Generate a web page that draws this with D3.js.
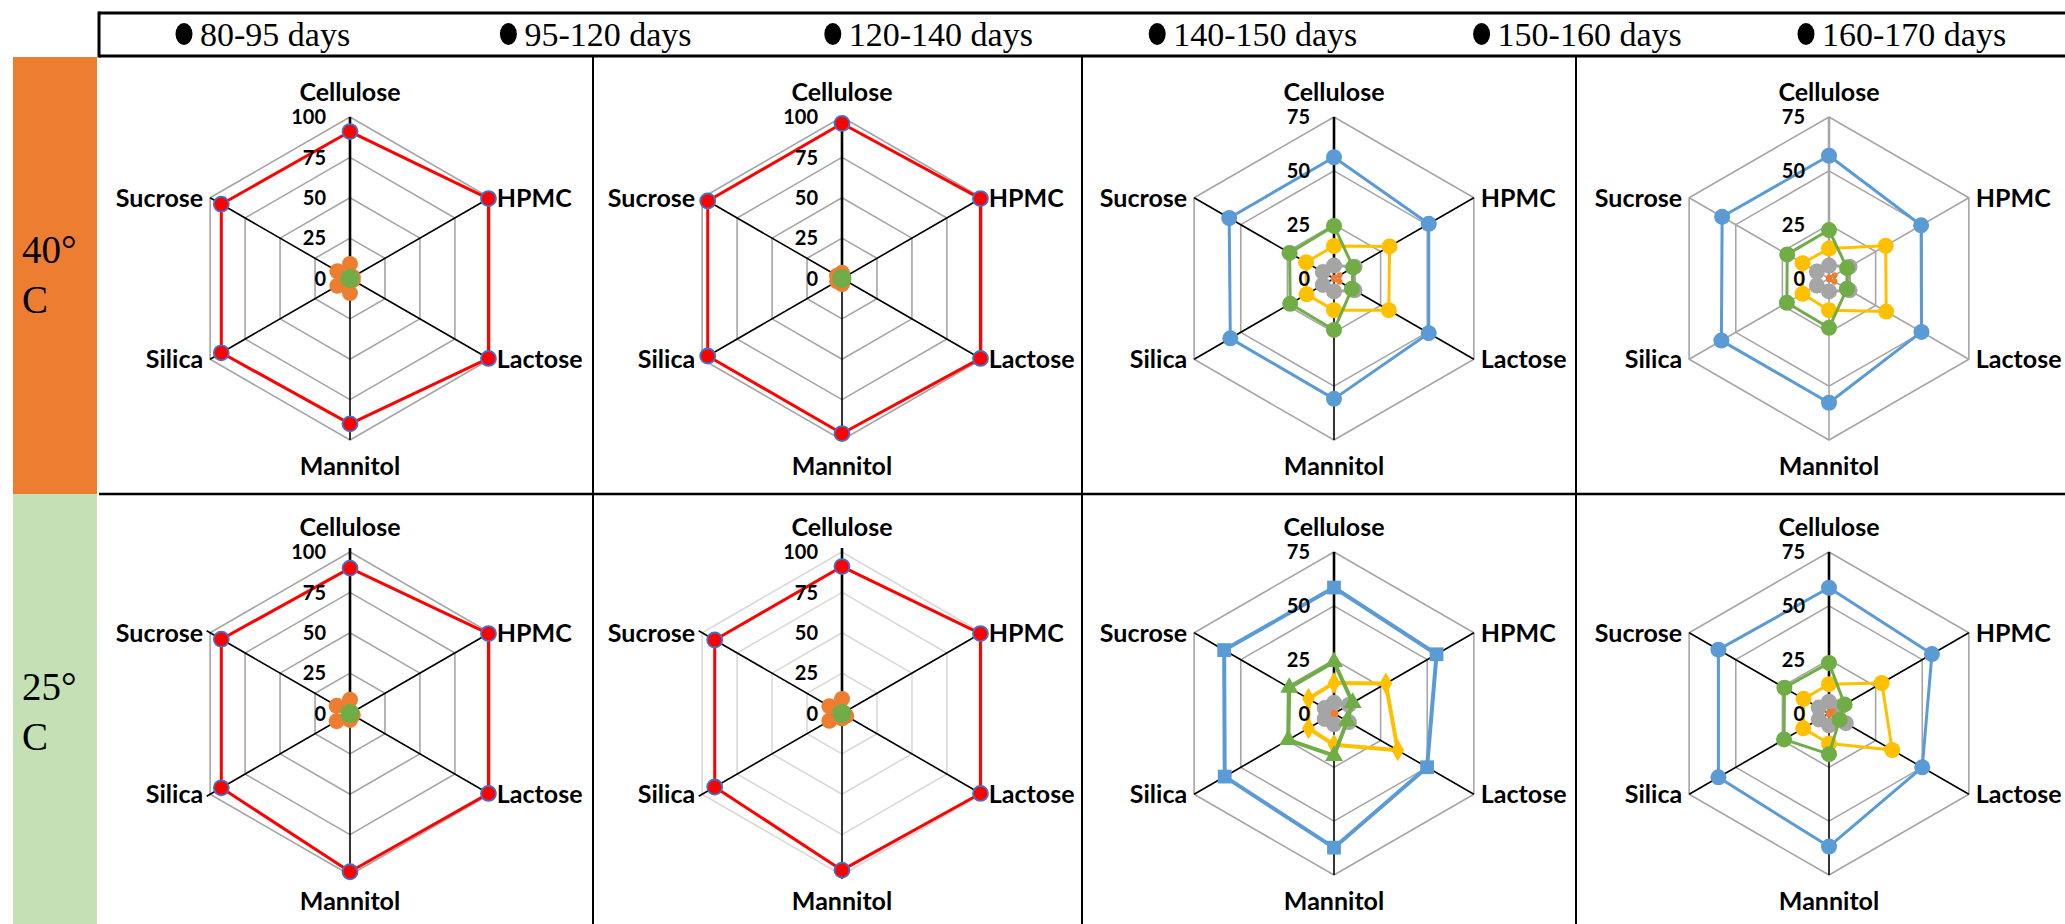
<!DOCTYPE html>
<html>
<head>
<meta charset="utf-8">
<script src="https://cdn.jsdelivr.net/npm/d3@7"></script>
<style>
  html, body { margin: 0; padding: 0; background: #fff; overflow: hidden; }
  .cat { font-family: Lato, "Open Sans", sans-serif; font-weight: 700; font-size: 25px; fill: #000; }
  .tick { font-family: Lato, "Open Sans", sans-serif; font-weight: 700; font-size: 20px; fill: #000; }
  .serif { font-family: "Liberation Serif", "Times New Roman", serif; fill: #000; }
  .legend-text { font-size: 34px; }
  .row-text { font-size: 39px; }
</style>
</head>
<body>
<svg id="fig" width="2065" height="924"></svg>
<script>
// ---- categories, tick labels, series ----
const periods = ["80-95 days", "95-120 days", "120-140 days", "140-150 days", "150-160 days", "160-170 days"];
const excipients = ["Cellulose", "HPMC", "Lactose", "Mannitol", "Silica", "Sucrose"];
const temperatures = ["40°", "25°"];
const ticksTo100 = [0, 25, 50, 75, 100];
const ticksTo75 = [0, 25, 50, 75];

// 40 °C, panel 1
const t40a_80_95   = [91, 99, 99, 90, 92, 92];
const t40a_95_120  = [9, 2, 2, 9, 9, 9];
const t40a_160_170 = [1, 1, 1, 1, 1, 1];
// 40 °C, panel 2
const t40b_80_95   = [96, 99, 99, 96, 96, 96];
const t40b_95_120  = [3.5, 0.5, 0.5, 3.5, 3.5, 3.5];
const t40b_160_170 = [1, 1, 1, 1, 1, 1];
// 40 °C, panel 3
const t40c_80_95   = [56.3, 50.8, 50.8, 55.9, 55.6, 56.2];
const t40c_120_140 = [6, 11, 11, 6, 6, 6];
const t40c_140_150 = [15.1, 29.8, 29.4, 14.7, 14.7, 15];
const t40c_95_120  = [0.5, 3, 3, 0.5, 0, 0];
const t40c_160_170 = [24.4, 10.3, 9.6, 23.9, 23.5, 23.8];
// 40 °C, panel 4
const t40d_80_95   = [57, 49.4, 49.6, 57.7, 57.7, 57.3];
const t40d_120_140 = [6, 11, 11, 6, 6.5, 6.5];
const t40d_140_150 = [13.9, 30.4, 30.7, 14.7, 14.2, 14.2];
const t40d_95_120  = [0.5, 3, 3, 0.5, 0, 0];
const t40d_160_170 = [22.5, 9.7, 9.6, 22.9, 22.6, 22.4];

// 25 °C, panel 1
const t25a_80_95   = [90, 99, 99, 98, 92, 92];
const t25a_95_120  = [8.5, 1, 2, 4, 9.5, 9.5];
const t25a_160_170 = [1, 1, 1, 1, 1, 1];
// 25 °C, panel 2
const t25b_80_95   = [91, 99, 99, 97, 91, 91];
const t25b_95_120  = [9, 1, 3, 3, 9, 9];
const t25b_160_170 = [1, 1, 1, 1, 1, 1];
// 25 °C, panel 3
const t25c_80_95   = [58.5, 55, 49.9, 62.3, 58.6, 58.9];
const t25c_120_140 = [5, 8, 8, 5, 5, 5];
const t25c_140_150 = [14.2, 27.8, 34.2, 14.5, 13.7, 13.7];
const t25c_95_120  = [0.5, 1, 1, 0.5, 0.5, 0.5];
const t25c_160_170 = [24, 10, 7, 19.6, 24.5, 24];
// 25 °C, panel 4
const t25d_80_95   = [58.4, 55.2, 50, 61.8, 59.3, 59.3];
const t25d_120_140 = [5.5, 6, 9, 5.5, 5.5, 5.5];
const t25d_140_150 = [13.6, 28.3, 33.9, 13.9, 13.8, 13.6];
const t25d_95_120  = [0.5, 2, 1, 0.5, 0, 0];
const t25d_160_170 = [23.5, 8.4, 5.7, 18.9, 24.1, 23.9];

// ---- styling ----
const periodColor = {
  "80-95 days": "#5B9BD5", "95-120 days": "#ED7D31", "120-140 days": "#A5A5A5",
  "140-150 days": "#FFC000", "150-160 days": "#4472C4", "160-170 days": "#70AD47"
};
const redStyle = { line: "#FF0000", fill: "#FF0000", stroke: "#4472C4", r: 7.5 };

const panels = [
  { row: 0, col: 0, ticks: ticksTo100, series: [
      ["80-95 days", t40a_80_95, redStyle], ["95-120 days", t40a_95_120], ["160-170 days", t40a_160_170]] },
  { row: 0, col: 1, ticks: ticksTo100, series: [
      ["80-95 days", t40b_80_95, redStyle], ["95-120 days", t40b_95_120], ["160-170 days", t40b_160_170]] },
  { row: 0, col: 2, ticks: ticksTo75, series: [
      ["80-95 days", t40c_80_95], ["120-140 days", t40c_120_140], ["140-150 days", t40c_140_150],
      ["95-120 days", t40c_95_120, { r: 3 }], ["160-170 days", t40c_160_170]] },
  { row: 0, col: 3, ticks: ticksTo75, spoke: "#A6A6A6", series: [
      ["80-95 days", t40d_80_95], ["120-140 days", t40d_120_140], ["140-150 days", t40d_140_150],
      ["95-120 days", t40d_95_120, { r: 3 }], ["160-170 days", t40d_160_170]] },
  { row: 1, col: 0, ticks: ticksTo100, ext: 4, series: [
      ["80-95 days", t25a_80_95, redStyle], ["95-120 days", t25a_95_120], ["160-170 days", t25a_160_170]] },
  { row: 1, col: 1, ticks: ticksTo100, ext: 4, grid: "#D9D9D9", series: [
      ["80-95 days", t25b_80_95, redStyle], ["95-120 days", t25b_95_120], ["160-170 days", t25b_160_170]] },
  { row: 1, col: 2, ticks: ticksTo75, series: [
      ["80-95 days", t25c_80_95, { symbol: d3.symbolSquare, size: 190, width: 4 }],
      ["120-140 days", t25c_120_140],
      ["140-150 days", t25c_140_150, { symbol: d3.symbolDiamond, size: 140, width: 4 }],
      ["95-120 days", t25c_95_120, { r: 2.5 }],
      ["160-170 days", t25c_160_170, { symbol: d3.symbolTriangle, size: 140, width: 4 }]] },
  { row: 1, col: 3, ticks: ticksTo75, series: [
      ["80-95 days", t25d_80_95], ["120-140 days", t25d_120_140], ["140-150 days", t25d_140_150],
      ["95-120 days", t25d_95_120, { r: 3 }], ["160-170 days", t25d_160_170]] }
];

// ---- page layout ----
const W = 2065, H = 924;
const colEdges = [99, 593, 1082, 1576, W];
const rowEdges = [57, 494, H];
const centerX = [350, 842, 1334, 1829];
const centerY = [278.5, 713.5];
const R = 161.5;

const svg = d3.select("#fig");

// row headers (temperature bands)
const bandFill = ["#ED7D31", "#C5E0B4"];
temperatures.forEach((t, i) => {
  svg.append("rect").attr("x", 13).attr("y", rowEdges[i]).attr("width", 84)
    .attr("height", rowEdges[i + 1] - rowEdges[i] + (i === 0 ? 0 : 2)).attr("fill", bandFill[i]);
  svg.append("text").attr("class", "serif row-text").attr("x", 22).attr("y", rowEdges[i] + 206).text(t);
  svg.append("text").attr("class", "serif row-text").attr("x", 22).attr("y", rowEdges[i] + 256).text("C");
});

// table rules
const rule = (x1, y1, x2, y2, w) => svg.append("line")
  .attr("x1", x1).attr("y1", y1).attr("x2", x2).attr("y2", y2)
  .attr("stroke", "#000").attr("stroke-width", w);
rule(99, 13, W, 13, 3);
rule(99, 56, W, 56, 3);
rule(99, 11.5, 99, 57.5, 3);
rule(99, rowEdges[1], W, rowEdges[1], 2.5);
colEdges.slice(1, 4).forEach(x => rule(x, 56, x, H, 2));

// legend inside the header band
const legendX = d3.scalePoint().domain(periods).range([184, 1806]);
const legend = svg.append("g");
periods.forEach(p => {
  const x = legendX(p);
  legend.append("ellipse").attr("cx", x).attr("cy", 34).attr("rx", 8.5).attr("ry", 11).attr("fill", "#000");
  legend.append("text").attr("class", "serif legend-text").attr("x", x + 16).attr("y", 46).text(p);
});

// ---- radar panels ----
const angle = d3.scaleBand().domain(excipients).range([0, 2 * Math.PI]);

panels.forEach(pn => {
  const cx = centerX[pn.col], cy = centerY[pn.row];
  const max = pn.ticks[pn.ticks.length - 1];
  const r = d3.scaleLinear().domain([0, max]).range([0, R]);
  const ext = pn.ext || 0;
  const gridColor = pn.grid || "#A6A6A6";
  const spokeColor = pn.spoke || "#000";
  const g = svg.append("g").attr("transform", `translate(${cx},${cy})`);
  const px = (cat, v) => Math.sin(angle(cat)) * r(v);
  const py = (cat, v) => -Math.cos(angle(cat)) * r(v);

  // rings
  const ring = d3.lineRadial().angle(d => angle(d.cat)).radius(d => r(d.v)).curve(d3.curveLinearClosed);
  pn.ticks.filter(t => t > 0).forEach(t => {
    g.append("path").attr("d", ring(excipients.map(c => ({ cat: c, v: t }))))
      .attr("fill", "none").attr("stroke", gridColor).attr("stroke-width", 1.6);
  });

  // spokes
  excipients.forEach(c => {
    const k = (r(max) + ext) / r(max);
    g.append("line").attr("x1", 0).attr("y1", 0)
      .attr("x2", px(c, max) * k).attr("y2", py(c, max) * k)
      .attr("stroke", spokeColor).attr("stroke-width", 1.6);
  });
  // value axis
  g.append("line").attr("x1", 0).attr("y1", 0).attr("x2", 0).attr("y2", -(r(max) + ext))
    .attr("stroke", spokeColor).attr("stroke-width", 2.6);

  // series
  pn.series.forEach(([period, values, st]) => {
    st = st || {};
    const col = periodColor[period];
    const lineCol = st.line || col;
    const pts = values.map((v, i) => ({ cat: excipients[i], v }));
    g.append("path").attr("d", ring(pts)).attr("fill", "none")
      .attr("stroke", lineCol).attr("stroke-width", st.width || 3).attr("stroke-linejoin", "round");
    const sym = st.symbol ? d3.symbol().type(st.symbol).size(st.size) : null;
    pts.forEach(d => {
      const x = px(d.cat, d.v), y = py(d.cat, d.v);
      if (sym) {
        g.append("path").attr("d", sym()).attr("transform", `translate(${x},${y})`).attr("fill", col);
      } else {
        g.append("circle").attr("cx", x).attr("cy", y).attr("r", st.r || 8)
          .attr("fill", st.fill || col)
          .attr("stroke", st.stroke || "none").attr("stroke-width", st.stroke ? 1.8 : 0);
      }
    });
  });

  // tick labels along the value axis
  pn.ticks.forEach(t => {
    g.append("text").attr("class", "tick").attr("x", -24).attr("y", -r(t)).attr("dy", "0.36em")
      .attr("text-anchor", "end").text(t);
  });

  // category labels
  excipients.forEach(c => {
    const x = px(c, max), y = py(c, max);
    const t = g.append("text").attr("class", "cat").text(c);
    const a = angle(c);
    if (Math.abs(Math.sin(a)) < 0.01) {
      t.attr("text-anchor", "middle").attr("x", x)
        .attr("y", Math.cos(a) > 0 ? y - 16 : y + 35);
    } else {
      t.attr("text-anchor", Math.sin(a) > 0 ? "start" : "end")
        .attr("x", Math.sin(a) > 0 ? x + 7 : x - 7)
        .attr("y", y).attr("dy", "0.36em");
    }
  });
});
</script>
</body>
</html>
